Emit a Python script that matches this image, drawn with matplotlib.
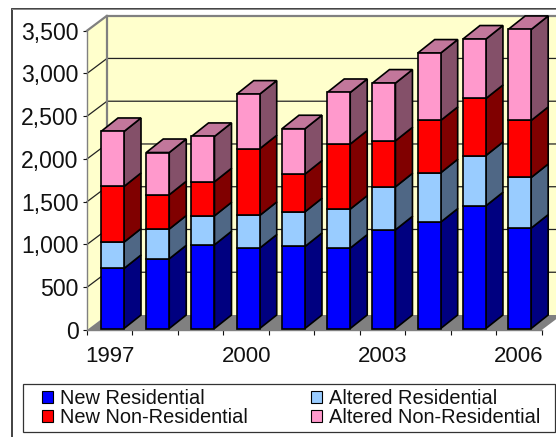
import matplotlib
matplotlib.use("Agg")
import matplotlib.pyplot as plt
from matplotlib.patches import Polygon, Rectangle, Patch

plt.rcParams['font.family'] = ['Liberation Sans', 'DejaVu Sans']

years = ['1997', '1998', '1999', '2000', '2001', '2002', '2003', '2004', '2005', '2006']
shown_years = ['1997', '', '', '2000', '', '', '2003', '', '', '2006']
new_res = [702, 815, 979, 940, 959, 940, 1154, 1244, 1435, 1174]
alt_res = [308, 348, 339, 382, 406, 456, 503, 577, 588, 592]
new_non = [651, 401, 398, 780, 441, 761, 538, 612, 667, 667]
alt_non = [643, 494, 530, 639, 530, 603, 675, 788, 695, 1064]
series = [
    ('New Residential', new_res, '#0000FF', '#000080'),
    ('Altered Residential', alt_res, '#99CCFF', '#4F6785'),
    ('New Non-Residential', new_non, '#FF0000', '#800000'),
    ('Altered Non-Residential', alt_non, '#FF99CC', '#845069'),
]
top_color = '#C2779B'

W, H = 556, 437
fig = plt.figure(figsize=(W / 100, H / 100), dpi=100, facecolor='white')

# axis box in pixels
L, R, B, T = 87.0, 541.7, 330.0, 30.7
ax = fig.add_axes([L / W, 1 - B / H, (R - L) / W, (B - T) / H])
ax.set_xlim(0, 10)
ax.set_ylim(0, 3500)
ax.patch.set_visible(False)
for s in ax.spines.values():
    s.set_visible(False)

px_x = 10 / (R - L)
px_y = 3500 / (B - T)
wall_dx, wall_dy = 20 * px_x, 15 * px_y
bar_dx, bar_dy = 17 * px_x, 13.5 * px_y
base = 1.5 * px_y
bar_w = 23 * px_x
gutter = 14 * px_x
pitch = 0.995

clip = Rectangle((0, 0), 1, 1, transform=fig.transFigure)

def poly(pts, fc, ec='none', lw=0, z=1):
    p = Polygon(pts, closed=True, facecolor=fc, edgecolor=ec, linewidth=lw,
                zorder=z, clip_on=True, joinstyle='miter')
    ax.add_patch(p)
    p.set_clip_path(clip)
    return p

# walls and floor
poly([(0, 0), (wall_dx, wall_dy), (wall_dx, 3500 + wall_dy), (0, 3500)], '#FFFFCC')
poly([(wall_dx, wall_dy), (10 + wall_dx, wall_dy), (10 + wall_dx, 3500 + wall_dy), (wall_dx, 3500 + wall_dy)], '#FFFFCC')
poly([(0, 0), (10, 0), (10 + wall_dx, wall_dy), (wall_dx, wall_dy)], '#808080')

# grid lines on the walls
for v in range(500, 3500, 500):
    ax.plot([0, wall_dx, 10 + wall_dx], [v, v + wall_dy, v + wall_dy], color='#222222',
            lw=0.9, zorder=2, clip_on=False)
ax.plot([0, wall_dx, wall_dx], [3500, 3500 + wall_dy, wall_dy], color='#808080', lw=1.6, zorder=2, clip_on=False)
ax.plot([wall_dx, 10 + wall_dx], [3500 + wall_dy] * 2, color='#808080', lw=1.6, zorder=2, clip_on=False)
ax.plot([0, 0], [0, 3500], color='#808080', lw=1.0, zorder=3, clip_on=False)
ax.plot([0, 10], [0, 0], color='#808080', lw=1.0, zorder=3, clip_on=False)

# stacked 3-D bars
for i in range(len(years)):
    x0 = i * pitch + gutter
    x1 = x0 + bar_w
    bottom = base
    z = 4 + i
    for name, vals, c, dark in series:
        top = bottom + vals[i]
        poly([(x1, bottom), (x1 + bar_dx, bottom + bar_dy), (x1 + bar_dx, top + bar_dy), (x1, top)],
             dark, 'black', 1.2, z)
        poly([(x0, bottom), (x1, bottom), (x1, top), (x0, top)], c, 'black', 1.2, z + 0.1)
        bottom = top
    poly([(x0, bottom), (x1, bottom), (x1 + bar_dx, bottom + bar_dy), (x0 + bar_dx, bottom + bar_dy)],
         top_color, 'black', 1.2, z)

# ticks
ax.set_yticks(range(0, 3501, 500))
ax.set_yticklabels([f'{v:,}' for v in range(0, 3501, 500)], fontsize=16.6, color='#111111')
ax.set_xticks(range(0, 11))
ax.set_xticklabels([])
ax.set_xticks([i + 0.5 for i in range(10)], minor=True)
ax.set_xticklabels(shown_years, minor=True, fontsize=16, color='#111111')
ax.tick_params(axis='y', length=3, width=0.8, pad=3, color='#111111')
ax.tick_params(axis='x', which='major', length=3.5, width=0.8, color='#111111')
ax.tick_params(axis='x', which='minor', length=0, pad=11.5)

# outer chart border
fig.add_artist(Rectangle((11.5 / W, -0.1), 1, 1 - 9 / H + 0.1, transform=fig.transFigure,
                         fill=False, edgecolor='#333333', linewidth=1.3, clip_on=True))
fig.add_artist(Rectangle((11.5 / W, 1 - 9.5 / H), 1, 0.8 / H, transform=fig.transFigure,
                         facecolor='#888888', edgecolor='none'))

# legend frame and entries
fig.add_artist(Rectangle((22.5 / W, 1 - 432 / H), (554.5 - 22.5) / W, 48 / H, transform=fig.transFigure,
                         facecolor='white', edgecolor='#333333', linewidth=0.9))
order = [series[0], series[2], series[1], series[3]]
handles = [Patch(facecolor=s[2], edgecolor='black', linewidth=0.8, label=s[0]) for s in order]
leg = fig.legend(handles=handles, ncols=2, loc='upper left',
                 bbox_to_anchor=(42 / W, 1 - 389 / H),
                 fontsize=14.4, frameon=False,
                 handlelength=0.55, handleheight=0.55, handletextpad=0.35,
                 labelspacing=0.02, columnspacing=3.15, borderpad=0, borderaxespad=0)
for t in leg.get_texts():
    t.set_color('#111111')

fig.savefig('out.png', dpi=100, facecolor='white')
